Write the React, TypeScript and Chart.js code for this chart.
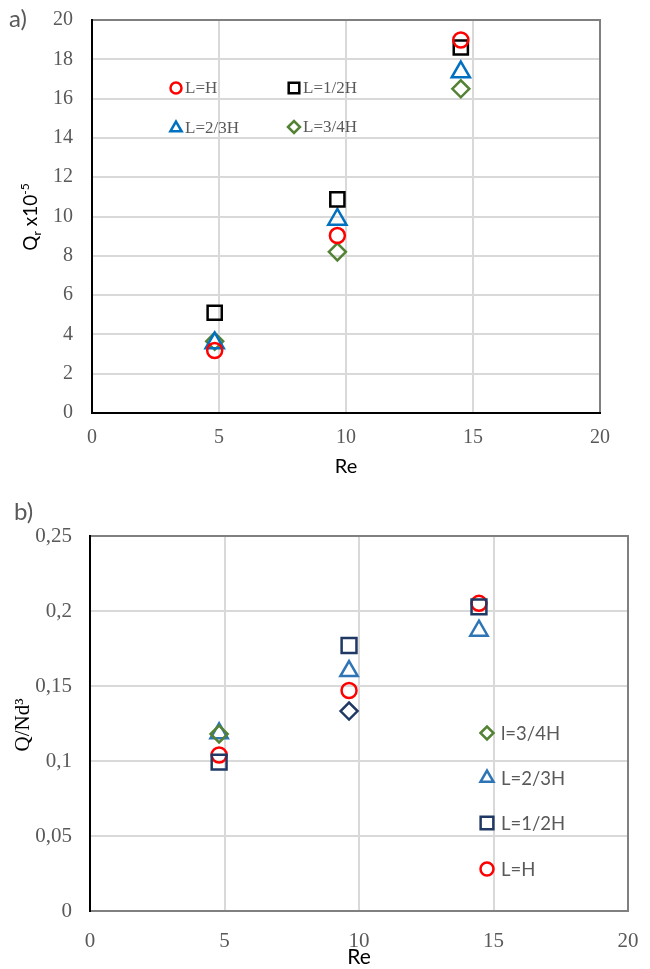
import React, { useEffect, useRef } from 'react';
import { Chart, registerables } from 'chart.js';
import { drawPoint } from 'chart.js/helpers';

Chart.register(...registerables);

// ---- Panel a): Q_r x10^-5 vs Re ----
const reA = [4.83, 9.66, 14.52];
const qrLH = [3.18, 9.03, 18.98];
const qrHalfH = [5.1, 10.87, 18.6];
const qrTwoThirdsH = [3.56, 9.85, 17.35];
const qrThreeQuartersH = [3.65, 8.2, 16.5];
const xTickValues = [0, 5, 10, 15, 20];
const yTickValuesA = [0, 2, 4, 6, 8, 10, 12, 14, 16, 18, 20];

// ---- Panel b): Q/Nd^3 vs Re ----
const reB = [4.8, 9.63, 14.46];
const qnLH = [0.104, 0.147, 0.2051];
const qnHalfH = [0.0993, 0.177, 0.2027];
const qnTwoThirdsH = [0.1185, 0.16, 0.1869];
const qnThreeQuartersH = [0.118, 0.1333];
const yTickValuesB = [0, 0.05, 0.1, 0.15, 0.2, 0.25];
const yTickLabelsB = ['0', '0,05', '0,1', '0,15', '0,2', '0,25'];

const RED = '#ff0000';
const BLACK = '#000000';
const BLUE_A = '#0070c0';
const GREEN = '#548235';
const NAVY = '#1f3864';
const BLUE_B = '#2e75b6';

const GRID = '#d9d9d9';
const FRAME = '#808080';
const TICK_TXT = '#595959';
const SERIF = '"Liberation Serif", "Times New Roman", serif';
const SANS = 'Lato, "Open Sans", sans-serif';

type LegendItem = { label: string; style: string; color: string; radius: number; x: number; y: number };

function pts(xs: number[], ys: number[]) {
  return ys.map((y, i) => ({ x: xs[i], y }));
}

function framePlugin(bottomColor: string) {
  return {
    id: 'frame',
    beforeDatasetsDraw(chart: any) {
      const { ctx, chartArea: a } = chart;
      ctx.save();
      ctx.lineWidth = 2;
      ctx.strokeStyle = FRAME;
      ctx.beginPath();
      ctx.moveTo(a.left, a.top);
      ctx.lineTo(a.right, a.top);
      ctx.lineTo(a.right, a.bottom);
      ctx.stroke();
      ctx.strokeStyle = bottomColor;
      ctx.beginPath();
      ctx.moveTo(a.left, a.bottom);
      ctx.lineTo(a.right + 1, a.bottom);
      ctx.stroke();
      ctx.strokeStyle = BLACK;
      ctx.beginPath();
      ctx.moveTo(a.left, a.top - 1);
      ctx.lineTo(a.left, a.bottom + 1);
      ctx.stroke();
      ctx.restore();
    },
  };
}

function legendPlugin(items: LegendItem[], font: string, color: string, gap: number, lw: number) {
  return {
    id: 'insideLegend',
    afterDatasetsDraw(chart: any) {
      const { ctx } = chart;
      ctx.save();
      items.forEach((it) => {
        ctx.strokeStyle = it.color;
        ctx.fillStyle = 'rgba(0,0,0,0)';
        ctx.lineWidth = lw;
        drawPoint(ctx, { pointStyle: it.style, radius: it.radius, rotation: 0, borderWidth: lw } as any, it.x, it.y);
        ctx.fillStyle = color;
        ctx.font = font;
        ctx.textAlign = 'left';
        ctx.textBaseline = 'middle';
        ctx.fillText(it.label, it.x + gap, it.y + 1);
      });
      ctx.restore();
    },
  };
}

function baseScales(opts: {
  yTicks: number[];
  yMax: number;
  yWidth: number;
  xHeight: number;
  yFont: number;
  xFont: number;
  yPad: number;
  xPad: number;
  yLabel: (v: number) => string;
}) {
  return {
    x: {
      type: 'linear',
      min: 0,
      max: 20,
      afterBuildTicks(scale: any) {
        scale.ticks = xTickValues.map((v) => ({ value: v }));
      },
      afterFit(scale: any) {
        scale.height = opts.xHeight;
        scale.paddingLeft = 0;
        scale.paddingRight = 0;
      },
      grid: { color: GRID, lineWidth: 2, drawTicks: false },
      border: { display: false },
      ticks: {
        color: TICK_TXT,
        padding: opts.xPad,
        font: { family: SERIF, size: opts.xFont },
        maxRotation: 0,
        callback: (v: any) => String(v),
      },
    },
    y: {
      type: 'linear',
      min: 0,
      max: opts.yMax,
      afterBuildTicks(scale: any) {
        scale.ticks = opts.yTicks.map((v) => ({ value: v }));
      },
      afterFit(scale: any) {
        scale.width = opts.yWidth;
        scale.paddingTop = 0;
        scale.paddingBottom = 0;
      },
      grid: { color: GRID, lineWidth: 2, drawTicks: false },
      border: { display: false },
      ticks: {
        color: TICK_TXT,
        padding: opts.yPad,
        font: { family: SERIF, size: opts.yFont },
        callback: (v: any) => opts.yLabel(Number(v)),
      },
    },
  };
}

function ChartA() {
  const ref = useRef<HTMLCanvasElement>(null);
  useEffect(() => {
    if (!ref.current) return;
    const titles = {
      id: 'titlesA',
      afterDraw(chart: any) {
        const { ctx, chartArea: a } = chart;
        ctx.save();
        // panel tag
        ctx.fillStyle = TICK_TXT;
        ctx.font = `24px ${SANS}`;
        ctx.textBaseline = 'middle';
        ctx.textAlign = 'left';
        ctx.fillText('a)', 9, 19);
        // x title
        ctx.fillStyle = BLACK;
        ctx.font = `20px ${SANS}`;
        ctx.textAlign = 'center';
        ctx.fillText('Re', (a.left + a.right) / 2, 467);
        // y title: Q_r x10^-5, rotated
        ctx.translate(37, 217);
        ctx.rotate(-Math.PI / 2);
        ctx.textBaseline = 'alphabetic';
        ctx.textAlign = 'left';
        const big = `19px ${SANS}`;
        const small = `12px ${SANS}`;
        const parts: [string, string, number][] = [
          ['Q', big, 0],
          ['r', small, 4],
          [' x10', big, 0],
          ['-5', small, -8],
        ];
        let w = 0;
        parts.forEach(([t, f]) => {
          ctx.font = f;
          w += ctx.measureText(t).width;
        });
        let x = -w / 2;
        parts.forEach(([t, f, dy]) => {
          ctx.font = f;
          ctx.fillText(t, x, dy);
          x += ctx.measureText(t).width;
        });
        ctx.restore();
      },
    };
    const legendItems: LegendItem[] = [
      { label: 'L=H', style: 'circle', color: RED, radius: 5.5, x: 176, y: 88 },
      { label: 'L=1/2H', style: 'rect', color: BLACK, radius: 7.5, x: 294, y: 88 },
      { label: 'L=2/3H', style: 'triangle', color: BLUE_A, radius: 6.5, x: 176, y: 128 },
      { label: 'L=3/4H', style: 'rectRot', color: GREEN, radius: 6, x: 294, y: 127 },
    ];
    const chart = new Chart(ref.current, {
      type: 'scatter',
      data: {
        datasets: [
          { label: 'L=H', data: pts(reA, qrLH), pointStyle: 'circle', pointRadius: 7.5, borderColor: RED },
          { label: 'L=1/2H', data: pts(reA, qrHalfH), pointStyle: 'rect', pointRadius: 10, borderColor: BLACK },
          { label: 'L=2/3H', data: pts(reA, qrTwoThirdsH), pointStyle: 'triangle', pointRadius: 10.5, borderColor: BLUE_A },
          { label: 'L=3/4H', data: pts(reA, qrThreeQuartersH), pointStyle: 'rectRot', pointRadius: 8.5, borderColor: GREEN },
        ].map((d) => ({
          ...d,
          backgroundColor: 'rgba(0,0,0,0)',
          pointBorderWidth: 2.5,
          pointHoverRadius: d.pointRadius,
          showLine: false,
          clip: false as any,
        })) as any,
      },
      options: {
        responsive: false,
        animation: false,
        devicePixelRatio: 1,
        layout: { padding: { top: 20, right: 50, left: 0, bottom: 0 } },
        plugins: { legend: { display: false }, tooltip: { enabled: false } },
        scales: baseScales({
          yTicks: yTickValuesA,
          yMax: 20,
          yWidth: 92,
          xHeight: 72,
          yFont: 20,
          xFont: 20,
          yPad: 19,
          xPad: 13,
          yLabel: (v) => String(v),
        }) as any,
      },
      plugins: [framePlugin(BLACK), legendPlugin(legendItems, `17px ${SERIF}`, TICK_TXT, 9, 2.5), titles],
    });
    return () => chart.destroy();
  }, []);
  return <canvas ref={ref} width={650} height={485} style={{ display: 'block', width: 650, height: 485 }} />;
}

function ChartB() {
  const ref = useRef<HTMLCanvasElement>(null);
  useEffect(() => {
    if (!ref.current) return;
    const titles = {
      id: 'titlesB',
      afterDraw(chart: any) {
        const { ctx, chartArea: a } = chart;
        ctx.save();
        ctx.fillStyle = TICK_TXT;
        ctx.font = `24px ${SANS}`;
        ctx.textBaseline = 'middle';
        ctx.textAlign = 'left';
        ctx.fillText('b)', 14, 27);
        ctx.fillStyle = BLACK;
        ctx.font = `21px ${SANS}`;
        ctx.textAlign = 'center';
        ctx.fillText('Re', (a.left + a.right) / 2, 472);
        // y title: Q/Nd³
        ctx.translate(29, 240);
        ctx.rotate(-Math.PI / 2);
        ctx.textBaseline = 'alphabetic';
        ctx.textAlign = 'center';
        ctx.font = `21px ${SERIF}`;
        ctx.fillText('Q/Nd³', 0, 0);
        ctx.restore();
      },
    };
    const legendItems: LegendItem[] = [
      { label: 'l=3/4H', style: 'rectRot', color: GREEN, radius: 6.5, x: 487, y: 248 },
      { label: 'L=2/3H', style: 'triangle', color: BLUE_B, radius: 7.5, x: 487, y: 293 },
      { label: 'L=1/2H', style: 'rect', color: NAVY, radius: 9, x: 487, y: 338 },
      { label: 'L=H', style: 'circle', color: RED, radius: 6.5, x: 487, y: 384 },
    ];
    const chart = new Chart(ref.current, {
      type: 'scatter',
      data: {
        datasets: [
          { label: 'L=1/2H', data: pts(reB, qnHalfH), pointStyle: 'rect', pointRadius: 10.5, borderColor: NAVY },
          { label: 'L=H', data: pts(reB, qnLH), pointStyle: 'circle', pointRadius: 7.5, borderColor: RED },
          {
            label: 'l=3/4H',
            data: pts(reB, qnThreeQuartersH),
            pointStyle: 'rectRot',
            pointRadius: 8.5,
            borderColor: GREEN,
            pointBorderColor: [GREEN, NAVY],
          },
          { label: 'L=2/3H', data: pts(reB, qnTwoThirdsH), pointStyle: 'triangle', pointRadius: 10, borderColor: BLUE_B },
        ].map((d: any) => ({
          ...d,
          pointBorderColor: d.pointBorderColor || d.borderColor,
          backgroundColor: 'rgba(0,0,0,0)',
          pointBorderWidth: 2.5,
          pointHoverRadius: d.pointRadius,
          showLine: false,
          clip: false as any,
        })) as any,
      },
      options: {
        responsive: false,
        animation: false,
        devicePixelRatio: 1,
        layout: { padding: { top: 51, right: 22, left: 0, bottom: 0 } },
        plugins: { legend: { display: false }, tooltip: { enabled: false } },
        scales: baseScales({
          yTicks: yTickValuesB,
          yMax: 0.25,
          yWidth: 90,
          xHeight: 58,
          yFont: 21,
          xFont: 21,
          yPad: 18,
          xPad: 18,
          yLabel: (v) => {
            const i = yTickValuesB.findIndex((t) => Math.abs(t - v) < 1e-9);
            return i >= 0 ? yTickLabelsB[i] : '';
          },
        }) as any,
      },
      plugins: [framePlugin(FRAME), legendPlugin(legendItems, `18.5px ${SANS}`, TICK_TXT, 14, 2.5), titles],
    });
    return () => chart.destroy();
  }, []);
  return <canvas ref={ref} width={650} height={484} style={{ display: 'block', width: 650, height: 484 }} />;
}

export default function App() {
  return (
    <div style={{ position: 'absolute', top: 0, left: 0, width: 650, height: 969, background: '#ffffff' }}>
      <ChartA />
      <ChartB />
    </div>
  );
}
